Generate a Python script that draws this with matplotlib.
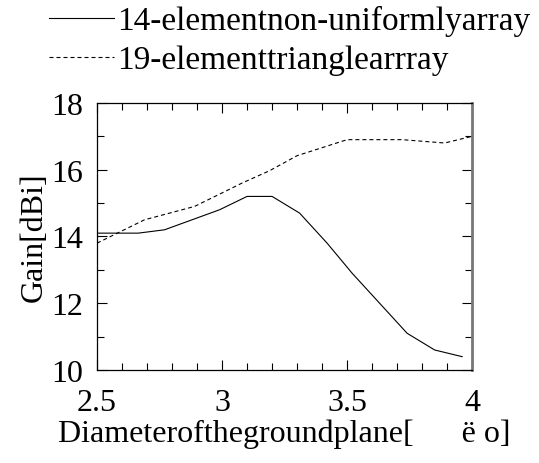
import matplotlib
matplotlib.use('Agg')
import matplotlib.pyplot as plt
from matplotlib.ticker import MultipleLocator

plt.rcParams['font.family'] = ['Liberation Serif', 'DejaVu Serif']

# 14-element non-uniformly spaced array (solid)
x14 = [2.5, 2.665, 2.77, 2.88, 2.99, 3.1, 3.2, 3.31, 3.42, 3.52, 3.63, 3.74, 3.85, 3.96]
g14 = [14.1, 14.1, 14.2, 14.5, 14.8, 15.2, 15.2, 14.7, 13.8, 12.9, 12.0, 11.1, 10.6, 10.4]

# 19-element triangle array (dashed)
x19 = [2.5, 2.69, 2.89, 3.08, 3.19, 3.3, 3.5, 3.72, 3.89, 4.0]
g19 = [13.8, 14.5, 14.9, 15.6, 15.97, 16.42, 16.9, 16.9, 16.8, 17.0]

labels = ['14-elementnon-uniformlyarray', '19-elementtrianglearrray']

fig = plt.figure(figsize=(5.39, 4.64), dpi=100)
ax = fig.add_axes([0.18, 0.2004, 0.696, 0.5756])

l1, = ax.plot(x14, g14, color='black', lw=0.8)
l2, = ax.plot(x19, g19, color='black', lw=0.8, dashes=(3.6, 2.7))

ax.set_xlim(2.5, 4)
ax.set_ylim(10, 18)
ax.xaxis.set_major_locator(MultipleLocator(0.5))
ax.xaxis.set_minor_locator(MultipleLocator(0.1))
ax.yaxis.set_major_locator(MultipleLocator(2))
ax.yaxis.set_minor_locator(MultipleLocator(1))
ax.xaxis.set_major_formatter(lambda v, p: f'{v:g}')
ax.tick_params(which='both', direction='in', top=True, right=True,
               labelsize=23, width=0.8)
ax.tick_params(axis='x', pad=13)
ax.tick_params(axis='y', pad=10)
ax.tick_params(which='major', length=7)
ax.tick_params(which='minor', length=5)
for s in ax.spines.values():
    s.set_linewidth(0.9)
ax.spines['right'].set_color('#777777')
ax.spines['right'].set_linewidth(2)

ax.set_ylabel('Gain[dBi]', fontsize=23, labelpad=2)
ax.set_xlabel('Diameterofthegroundplane[      ë o]', fontsize=23, labelpad=1)

fig.legend([l1, l2], labels, loc='upper left', bbox_to_anchor=(0.087, 0.99),
           frameon=False, fontsize=24, handlelength=1.95, handletextpad=0.1,
           labelspacing=0.25, borderpad=0.05, borderaxespad=0)

fig.savefig('out.png', dpi=100)
